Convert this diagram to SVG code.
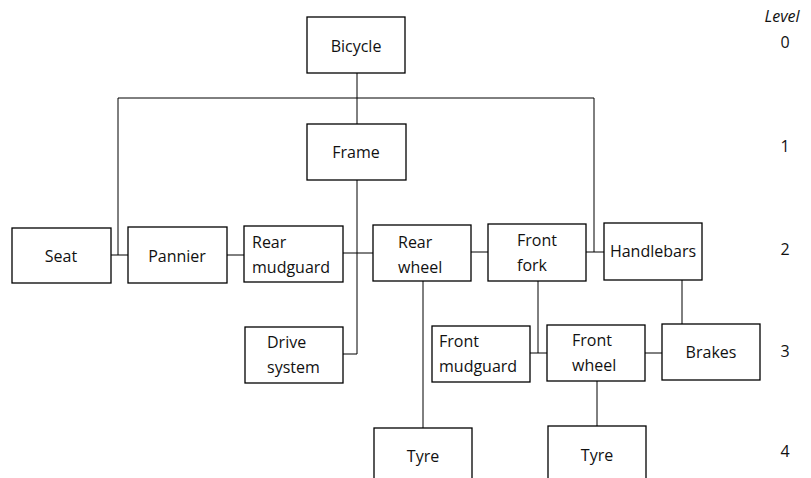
<svg xmlns="http://www.w3.org/2000/svg" width="811" height="478" viewBox="0 0 811 478">
<style>
rect{fill:#fff;stroke:#000;stroke-width:1.3}
text{font-family:"Open Sans","Liberation Sans",sans-serif;font-size:16px;fill:#111}
.c{text-anchor:middle}
#connectors path{fill:none;stroke:#000;stroke-width:1}
.lv{font-size:16px}
</style>
<rect x="0" y="0" width="811" height="478" style="fill:#fff;stroke:none"/>
<g id="connectors">
<path d="M357 73V124"/>
<path d="M118 98H594"/>
<path d="M118 98V255"/>
<path d="M594 98V252"/>
<path d="M357 180V354H343"/>
<path d="M111 255H128"/>
<path d="M227 255H244"/>
<path d="M343 253H373"/>
<path d="M471 252H488"/>
<path d="M586 252H604"/>
<path d="M538 281V353"/>
<path d="M530 353H547"/>
<path d="M682 280V324"/>
<path d="M645 353H662"/>
<path d="M423 281V428"/>
<path d="M597 381V426"/>
</g>
<g id="bicycle"><rect x="307" y="17" width="98" height="56"/><text class="c" x="356" y="52">Bicycle</text></g>
<g id="frame"><rect x="307" y="124" width="99" height="56"/><text class="c" x="356" y="158">Frame</text></g>
<g id="seat"><rect x="12" y="228" width="99" height="55"/><text class="c" x="61" y="262">Seat</text></g>
<g id="pannier"><rect x="128" y="227" width="99" height="56"/><text class="c" x="177" y="262">Pannier</text></g>
<g id="rear-mudguard"><rect x="244" y="226" width="99" height="56"/><text x="252" y="248">Rear</text><text x="252" y="273">mudguard</text></g>
<g id="rear-wheel"><rect x="373" y="225" width="98" height="56"/><text x="398" y="248">Rear</text><text x="398" y="273">wheel</text></g>
<g id="front-fork"><rect x="488" y="224" width="98" height="57"/><text x="517" y="246">Front</text><text x="517" y="271">fork</text></g>
<g id="handlebars"><rect x="604" y="223" width="98" height="57"/><text class="c" x="653" y="257">Handlebars</text></g>
<g id="drive-system"><rect x="245" y="327" width="98" height="56"/><text x="267" y="348">Drive</text><text x="267" y="373">system</text></g>
<g id="front-mudguard"><rect x="432" y="326" width="98" height="56"/><text x="439" y="347">Front</text><text x="439" y="372">mudguard</text></g>
<g id="front-wheel"><rect x="547" y="325" width="98" height="56"/><text x="572" y="346">Front</text><text x="572" y="371">wheel</text></g>
<g id="brakes"><rect x="662" y="324" width="98" height="56"/><text class="c" x="711" y="358">Brakes</text></g>
<g id="tyre-rear"><rect x="374" y="428" width="98" height="70"/><text class="c" x="423" y="462">Tyre</text></g>
<g id="tyre-front"><rect x="548" y="426" width="98" height="72"/><text class="c" x="597" y="461">Tyre</text></g>
<g id="levels">
<text class="c lv" x="782" y="22" font-style="italic">Level</text>
<text class="c lv" x="785" y="48">0</text>
<text class="c lv" x="785" y="152">1</text>
<text class="c lv" x="785" y="255">2</text>
<text class="c lv" x="785" y="357">3</text>
<text class="c lv" x="785" y="457">4</text>
</g>
</svg>
